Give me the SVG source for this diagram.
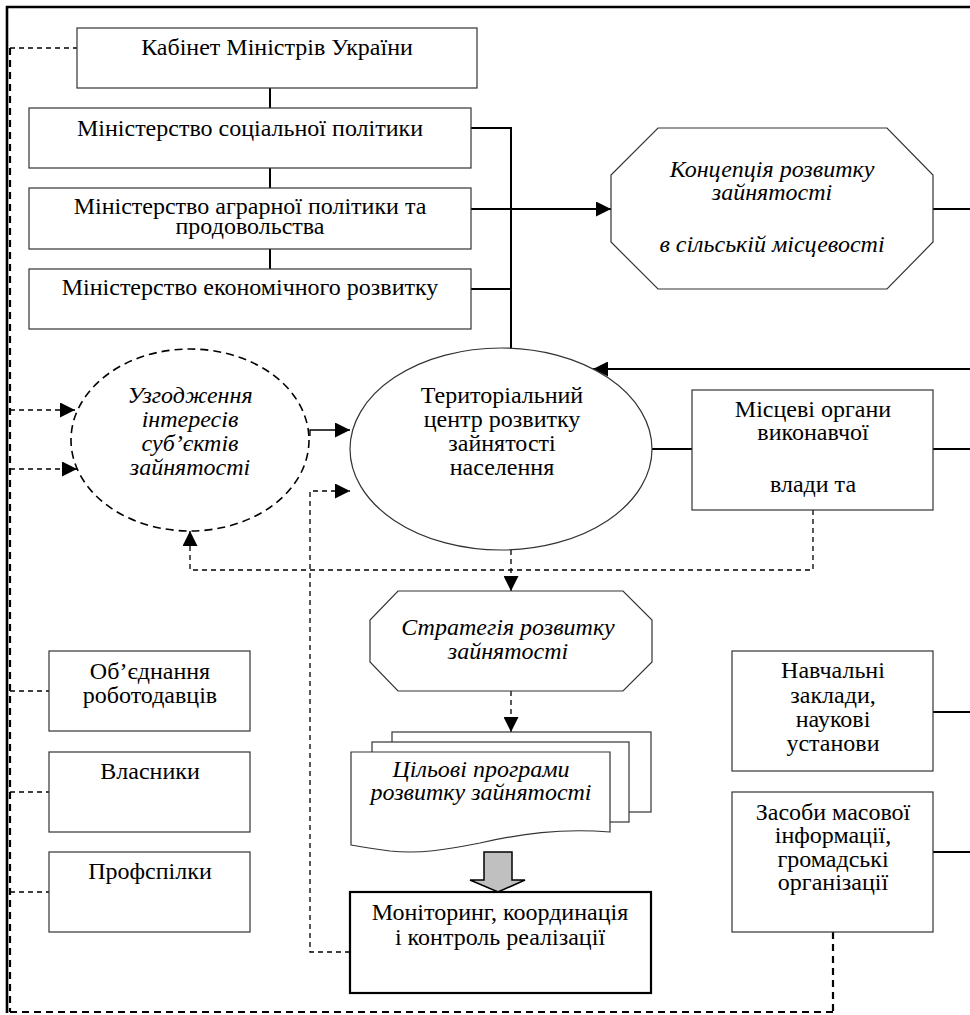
<svg xmlns="http://www.w3.org/2000/svg" width="970" height="1015" viewBox="0 0 970 1015">
<defs>
<style>
.box{fill:#fff;stroke:#333;stroke-width:1.2}
.thick{fill:#fff;stroke:#000;stroke-width:2.2}
.t{font-family:"Liberation Serif","Times New Roman",serif;font-size:24px;fill:#000;text-anchor:middle}
.i{font-style:italic}
.ln{fill:none;stroke:#000;stroke-width:2}
.thin{fill:none;stroke:#000;stroke-width:1.3}
.dl{fill:none;stroke:#000;stroke-width:1.3;stroke-dasharray:5,4}
.df{fill:none;stroke:#000;stroke-width:2.2;stroke-dasharray:7,5}
</style>
<marker id="ah" markerUnits="userSpaceOnUse" markerWidth="15" markerHeight="15" refX="15" refY="7.5" orient="auto">
<path d="M0,0 L15,7.5 L0,15 Z" fill="#000"/>
</marker>
</defs>
<rect width="970" height="1015" fill="#fff"/>

<g id="frame">
<line x1="6" y1="7" x2="970" y2="7" stroke="#000" stroke-width="2.6"/>
<line x1="7" y1="6" x2="7" y2="1013" stroke="#000" stroke-width="2.6"/>
<line x1="10" y1="48" x2="10" y2="1012" class="df" stroke-width="1.6"/>
<line x1="10" y1="1012" x2="833" y2="1012" class="df"/>
</g>

<g id="connectors">
<line x1="10" y1="48" x2="77" y2="48" class="dl"/>
<line x1="270" y1="88" x2="270" y2="108" class="ln"/>
<line x1="270" y1="168" x2="270" y2="188" class="ln"/>
<line x1="270" y1="249" x2="270" y2="269" class="ln"/>
<polyline points="471,128 511,128 511,351" class="ln"/>
<line x1="471" y1="289" x2="511" y2="289" class="ln"/>
<line x1="471" y1="209" x2="611" y2="209" class="ln" marker-end="url(#ah)"/>
<line x1="933" y1="209" x2="970" y2="209" class="ln"/>
<line x1="970" y1="369" x2="593" y2="369" class="ln" marker-end="url(#ah)"/>
<line x1="652" y1="449" x2="692" y2="449" class="ln"/>
<line x1="933" y1="449" x2="970" y2="449" class="ln"/>
<line x1="10" y1="410" x2="75" y2="410" class="dl" marker-end="url(#ah)"/>
<line x1="10" y1="469" x2="77" y2="469" class="dl" marker-end="url(#ah)"/>
<polyline points="310,436 310,430 350,430" class="thin" marker-end="url(#ah)"/>
<polyline points="350,952 310,952 310,491 350,491" class="dl" marker-end="url(#ah)"/>
<polyline points="813,510 813,570 190,570 190,531" class="dl" marker-end="url(#ah)"/>
<line x1="511" y1="550" x2="511" y2="591" class="dl" marker-end="url(#ah)"/>
<line x1="511" y1="691" x2="511" y2="732" class="dl" marker-end="url(#ah)"/>
<line x1="10" y1="691" x2="49" y2="691" class="dl"/>
<line x1="10" y1="792" x2="49" y2="792" class="dl"/>
<line x1="10" y1="892" x2="49" y2="892" class="dl"/>
<line x1="933" y1="712" x2="970" y2="712" class="ln"/>
<line x1="933" y1="852" x2="970" y2="852" class="ln"/>
<polyline points="833,932 833,1012" class="df" stroke-width="1.6"/>
<polygon points="484,852 512,852 512,880 525,880 498,892 470,880 484,880" fill="#c0c0c0" stroke="#000" stroke-width="1.5"/>
</g>

<g id="kabinet">
<rect x="77" y="28" width="400" height="60" class="box"/>
<text x="277" y="55" class="t">Кабінет Міністрів України</text>
</g>
<g id="min-soc">
<rect x="29" y="108" width="442" height="60" class="box"/>
<text x="250" y="136" class="t">Міністерство соціальної політики</text>
</g>
<g id="min-agr">
<rect x="29" y="188" width="442" height="61" class="box"/>
<text x="250" y="214" class="t">Міністерство аграрної політики та</text>
<text x="250" y="234" class="t">продовольства</text>
</g>
<g id="min-ekon">
<rect x="29" y="269" width="442" height="60" class="box"/>
<text x="250" y="295" class="t">Міністерство економічного розвитку</text>
</g>

<g id="koncepciya">
<polygon points="658,128 887,128 933,175 933,242 887,289 658,289 611,242 611,175" class="box"/>
<text x="772" y="177" class="t i">Концепція розвитку</text>
<text x="772" y="200" class="t i">зайнятості</text>
<text x="772" y="252" class="t i">в сільській місцевості</text>
</g>

<g id="uzgodzhennya">
<ellipse cx="190" cy="440" rx="119" ry="91" fill="#fff" stroke="#000" stroke-width="1.6" stroke-dasharray="8,5"/>
<text x="190" y="403" class="t i">Узгодження</text>
<text x="190" y="427" class="t i">інтересів</text>
<text x="190" y="451" class="t i">суб’єктів</text>
<text x="190" y="475" class="t i">зайнятості</text>
</g>

<g id="terytorialnyi">
<ellipse cx="501" cy="449" rx="151" ry="101" class="box"/>
<text x="502" y="403" class="t">Територіальний</text>
<text x="502" y="427" class="t">центр розвитку</text>
<text x="502" y="451" class="t">зайнятості</text>
<text x="502" y="475" class="t">населення</text>
</g>

<g id="miscevi">
<rect x="692" y="390" width="241" height="120" class="box"/>
<text x="813" y="417" class="t">Місцеві органи</text>
<text x="813" y="440" class="t">виконавчої</text>
<text x="813" y="492" class="t">влади та</text>
</g>

<g id="strategiya">
<polygon points="398,591 623,591 652,620 652,662 623,691 398,691 370,662 370,620" class="box"/>
<text x="508" y="635" class="t i">Стратегія розвитку</text>
<text x="508" y="659" class="t i">зайнятості</text>
</g>

<g id="programy">
<rect x="392" y="732" width="259" height="80" class="box"/>
<rect x="372" y="742" width="257" height="80" class="box"/>
<path d="M351,752 H610 V832 C560,828 520,834 480,843 C445,850 420,854 390,851 C375,849 362,847 351,845 Z" class="box"/>
<text x="481" y="777" class="t i">Цільові програми</text>
<text x="481" y="800" class="t i">розвитку зайнятості</text>
</g>

<g id="monitoring">
<rect x="350" y="892" width="301" height="101" class="thick"/>
<text x="500" y="920" class="t">Моніторинг, координація</text>
<text x="500" y="945" class="t">і контроль реалізації</text>
</g>

<g id="obyednannya">
<rect x="49" y="651" width="201" height="80" class="box"/>
<text x="150" y="679" class="t">Об’єднання</text>
<text x="150" y="703" class="t">роботодавців</text>
</g>
<g id="vlasnyky">
<rect x="49" y="752" width="201" height="80" class="box"/>
<text x="150" y="779" class="t">Власники</text>
</g>
<g id="profspilky">
<rect x="49" y="852" width="201" height="80" class="box"/>
<text x="150" y="879" class="t">Профспілки</text>
</g>

<g id="navchalni">
<rect x="732" y="651" width="201" height="120" class="box"/>
<text x="833" y="678" class="t">Навчальні</text>
<text x="833" y="703" class="t">заклади,</text>
<text x="833" y="727" class="t">наукові</text>
<text x="833" y="751" class="t">установи</text>
</g>
<g id="zasoby">
<rect x="732" y="792" width="201" height="140" class="box"/>
<text x="833" y="820" class="t">Засоби масової</text>
<text x="833" y="843" class="t">інформації,</text>
<text x="833" y="867" class="t">громадські</text>
<text x="833" y="890" class="t">організації</text>
</g>
</svg>
